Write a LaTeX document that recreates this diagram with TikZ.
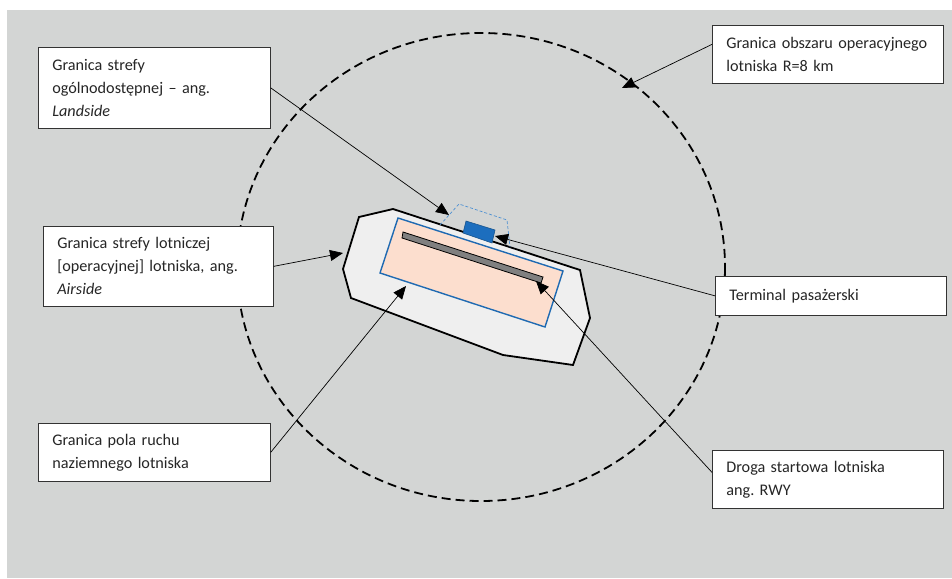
\documentclass[tikz,border=0pt]{standalone}
\usepackage{fontspec}
\setmainfont{Carlito}
\usepackage{tikz}
\usetikzlibrary{arrows.meta, positioning, calc}
\frenchspacing

\definecolor{bggray}{RGB}{211,213,212}
\definecolor{sidegray}{RGB}{239,239,239}
\definecolor{apronpink}{RGB}{252,222,206}
\definecolor{edgeblue}{RGB}{31,106,178}
\definecolor{termblue}{RGB}{28,110,190}
\definecolor{dashblue}{RGB}{80,145,210}
\newcommand{\boxfont}{\fontsize{16.2}{23}\selectfont\hyphenpenalty=10000\relax}

\begin{document}
\begin{tikzpicture}[
    x=1pt, y=-1pt, >={Triangle[length=13pt, width=11pt]},
    % --- STYLES ---
    callbox/.style={draw=black!80, fill=white, line width=0.7pt, anchor=north west, inner xsep=14pt, inner ysep=0pt, align=left, font=\boxfont, text=black!85},
    callout/.style={->, line width=0.7pt, black},
    zone/.style={dashed, line width=1.8pt, dash pattern=on 9pt off 5pt},
    airside/.style={draw=black, line width=1.8pt, fill=sidegray, line join=miter},
    apron/.style={draw=edgeblue, line width=1.4pt, fill=apronpink},
    runway/.style={draw=black, line width=0.8pt, fill=black!50},
    terminal/.style={draw=edgeblue!80!black, line width=0.6pt, fill=termblue},
    landside/.style={draw=dashblue, dashed, line width=0.7pt, dash pattern=on 3pt off 2pt}
]
\useasboundingbox (0,0) rectangle (952,578);

% --- 1. BACKGROUND AND OPERATIONAL AREA (R=8 km) ---
\fill[bggray] (7,10) rectangle (952,578);
\draw[zone] (481,267) ellipse [x radius=244, y radius=234];

% --- 2. AIRPORT (Airside, apron, runway, terminal) ---
\draw[airside] (359,217) -- (393,209) -- (580,270) -- (590,318) -- (573,365)
    -- (503,355) -- (351,298) -- (343,269) -- cycle;
\draw[apron] (398,218) -- (563,271) -- (545,327) -- (380,273) -- cycle;
\draw[runway] (403,232) -- (543,277) -- (541,283) -- (402,238) -- cycle;
\draw[landside] (440,225) -- (459,204) -- (507,220) -- (510,247);
\draw[terminal] (466,221) -- (495,230) -- (492,243) -- (463,233) -- cycle;

% arrow targets
\coordinate (zoneTip) at (622,88);
\coordinate (landTip) at (449,215);
\coordinate (airTip) at (343,253);
\coordinate (termTip) at (495,236);
\coordinate (rwyTip) at (536,281);
\coordinate (apronTip) at (406,286);

% --- 3. LABEL BOXES ---
\node[callbox, text width=204pt, minimum height=81pt] (Landside) at (38,47)
    {Granica strefy\\ogólnodostępnej – ang.\\\textit{Landside}};
\node[callbox, text width=203pt, minimum height=58pt] (Obszar) at (712,25)
    {Granica obszaru operacyjnego\\lotniska R=8 km};
\node[callbox, text width=202pt, minimum height=80pt] (Airside) at (43,226)
    {Granica strefy lotniczej\\{[operacyjnej]} lotniska, ang.\\\textit{Airside}};
\node[callbox, text width=203pt, minimum height=39pt] (Terminal) at (715,276)
    {Terminal pasażerski};
\node[callbox, text width=203pt, minimum height=58pt] (Droga) at (712,450)
    {Droga startowa lotniska\\ang. RWY};
\node[callbox, text width=204pt, minimum height=58pt] (Pole) at (38,423)
    {Granica pola ruchu\\naziemnego lotniska};

% --- 4. CALLOUT ARROWS ---
\draw[callout] (Landside.east) -- (landTip);
\draw[callout] ([yshift=10pt]Obszar.west) -- (zoneTip);
\draw[callout] (Airside.east) -- (airTip);
\draw[callout] (Terminal.west) -- (termTip);
\draw[callout] ([yshift=7pt]Droga.west) -- (rwyTip);
\draw[callout] (Pole.east) -- (apronTip);

\end{tikzpicture}
\end{document}
